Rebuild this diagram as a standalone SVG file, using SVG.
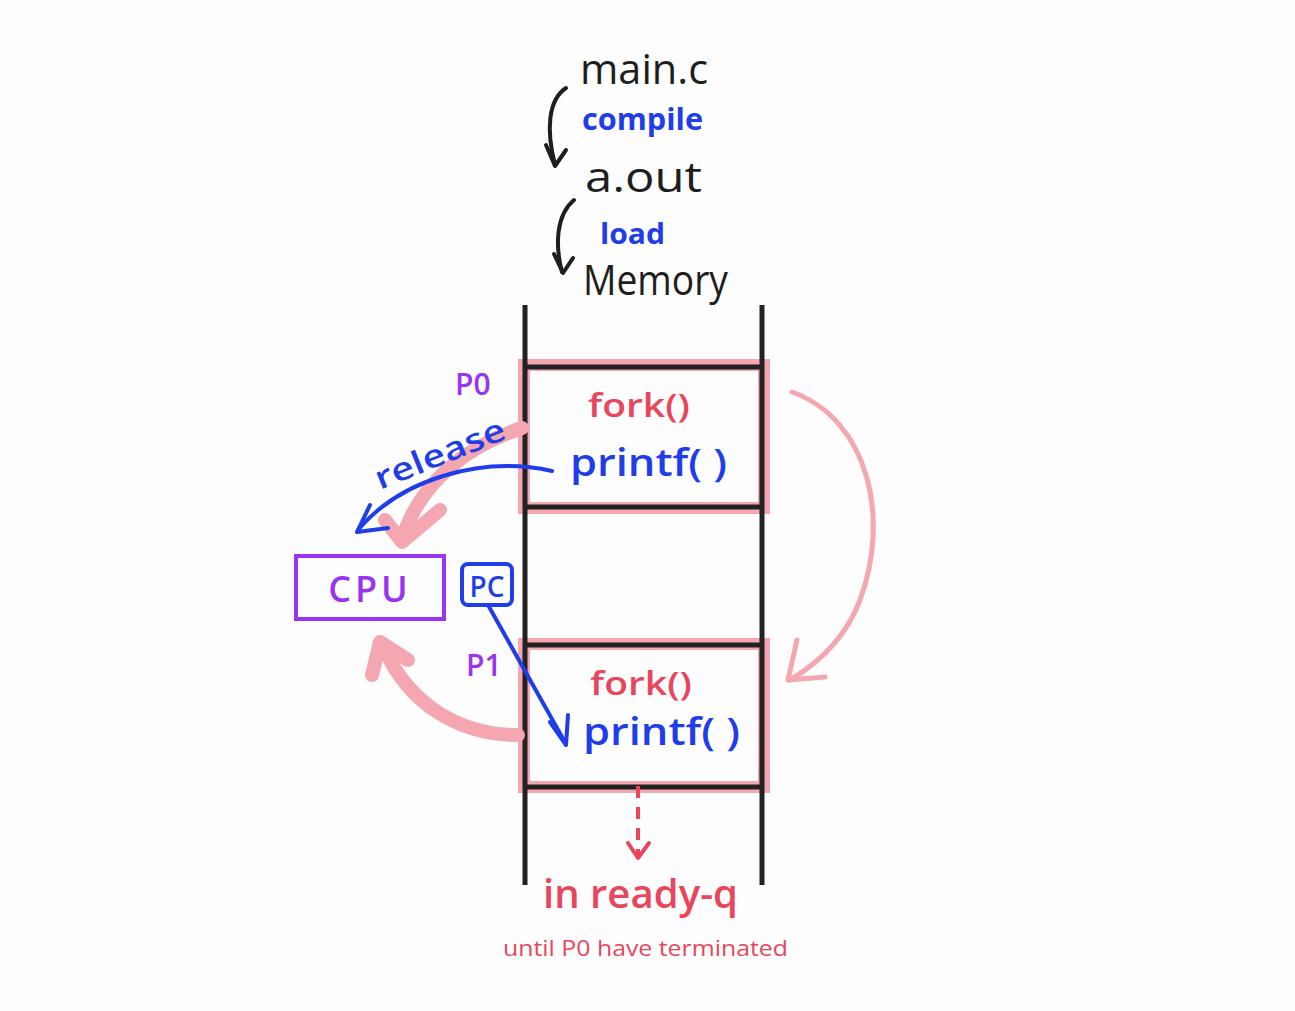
<svg xmlns="http://www.w3.org/2000/svg" width="1295" height="1011" viewBox="0 0 1295 1011">
<defs>
<style>
text{font-family:"Open Sans","Liberation Sans",sans-serif;}
.blk{fill:#1e1e1e;font-size:42px;}
.blue{fill:#1f3de8;}
.red{fill:#e8465c;}
.purp{fill:#9a34f0;}
.wall{stroke:#222;stroke-width:5;fill:none;}
.band{fill:none;stroke:#f4a7b0;stroke-width:12;}
.pk{fill:none;stroke:#f4a7b0;stroke-linecap:round;}
.bl{fill:none;stroke:#1f3de8;stroke-width:4;stroke-linecap:round;stroke-linejoin:round;}
.bk{fill:none;stroke:#1e1e1e;stroke-width:4;stroke-linecap:round;stroke-linejoin:round;}
</style>
</defs>
<rect width="1295" height="1011" fill="#fdfdfd"/>
<g id="p0-box">
<rect class="band" x="524" y="365" width="240" height="143"/>
<line class="wall" x1="525" y1="367" x2="762" y2="367"/>
<line class="wall" x1="525" y1="507" x2="762" y2="507"/>
<text class="red" x="588" y="417" font-size="32" font-weight="600" textLength="102" lengthAdjust="spacingAndGlyphs">fork()</text>
<text class="blue" x="570" y="476" font-size="38" font-weight="600" textLength="157" lengthAdjust="spacingAndGlyphs">printf( )</text>
</g>
<g id="p1-box">
<rect class="band" x="524" y="644" width="240" height="143"/>
<line class="wall" x1="525" y1="645" x2="762" y2="645"/>
<line class="wall" x1="525" y1="787" x2="762" y2="787"/>
<text class="red" x="590" y="695" font-size="32" font-weight="600" textLength="102" lengthAdjust="spacingAndGlyphs">fork()</text>
<text class="blue" x="583" y="745" font-size="38" font-weight="600" textLength="157" lengthAdjust="spacingAndGlyphs">printf( )</text>
</g>
<g id="memory">
<line class="wall" x1="525" y1="305" x2="525" y2="885"/>
<line class="wall" x1="762" y1="305" x2="762" y2="885"/>
</g>
<g id="connectors">
<path class="bk" d="M566 88 C548 100 546 130 555 165"/>
<path class="bk" d="M546 145 L555 166 L566 150"/>
<path class="bk" d="M574 200 C556 215 555 245 562 272"/>
<path class="bk" d="M554 254 L563 273 L573 258"/>
<path class="pk" d="M522 428 C470 445 420 480 402 540" stroke-width="14"/>
<path class="pk" d="M385 520 L402 542 L440 510" stroke-width="14" stroke-linejoin="round"/>
<path class="pk" d="M518 735 C460 735 410 705 385 650" stroke-width="14"/>
<path class="pk" d="M372 675 L380 642 L408 660" stroke-width="14" stroke-linejoin="round"/>
<path class="pk" d="M792 392 C870 420 890 520 860 600 C845 640 815 665 790 680" stroke-width="5"/>
<path class="pk" d="M797 640 L788 680 L825 677" stroke-width="5" stroke-linejoin="round"/>
<path class="bl" d="M552 471 C480 455 400 480 358 530"/>
<path class="bl" d="M370 505 L357 532 L388 528"/>
<path class="bl" d="M488 605 L566 744"/>
<path class="bl" d="M550 722 L566 745 L568 715"/>
<path d="M638 786 L638 855" fill="none" stroke="#e8465c" stroke-width="4" stroke-dasharray="12 9"/>
<path d="M628 843 L638 858 L649 843" fill="none" stroke="#e8465c" stroke-width="4" stroke-linecap="round" stroke-linejoin="round"/>
</g>
<g id="labels">
<text class="blk" x="580" y="84" textLength="128" lengthAdjust="spacingAndGlyphs">main.c</text>
<text class="blue" x="582" y="130" font-size="30" font-weight="700" textLength="121" lengthAdjust="spacingAndGlyphs">compile</text>
<text class="blk" x="585" y="192" textLength="117" lengthAdjust="spacingAndGlyphs">a.out</text>
<text class="blue" x="600" y="244" font-size="28" font-weight="700" textLength="65" lengthAdjust="spacingAndGlyphs">load</text>
<text class="blk" x="583" y="295" font-size="40" textLength="145" lengthAdjust="spacingAndGlyphs">Memory</text>
<text class="purp" x="455" y="395" font-size="30" font-weight="600">P0</text>
<text class="purp" x="466" y="676" font-size="30" font-weight="600">P1</text>
<text class="blue" x="0" y="0" font-size="32" font-weight="600" textLength="138" lengthAdjust="spacingAndGlyphs" transform="translate(380,490) rotate(-22)">release</text>
<text class="red" x="543" y="908" font-size="40" font-weight="600" textLength="195" lengthAdjust="spacingAndGlyphs">in ready-q</text>
<text class="red" x="503" y="956" font-size="22" textLength="285" lengthAdjust="spacingAndGlyphs">until P0 have terminated</text>
</g>
<g id="cpu">
<rect x="296" y="556" width="148" height="63" fill="none" stroke="#9a34f0" stroke-width="4"/>
<text class="purp" x="370" y="602" font-size="36" font-weight="600" text-anchor="middle" letter-spacing="4">CPU</text>
</g>
<g id="pc">
<rect x="462" y="564" width="50" height="41" rx="6" fill="none" stroke="#1f3de8" stroke-width="4"/>
<text class="blue" x="487" y="597" font-size="28" font-weight="600" text-anchor="middle">PC</text>
</g>
</svg>
